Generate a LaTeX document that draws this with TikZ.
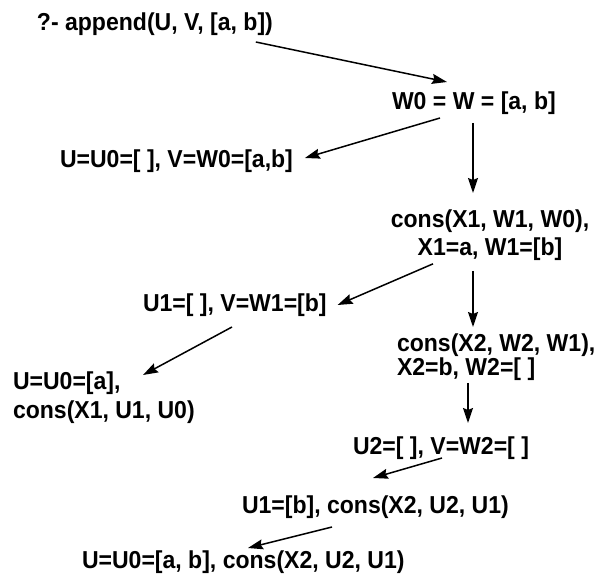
\documentclass[tikz,border=0pt]{standalone}
\usepackage{fontspec}
\setmainfont[FakeStretch=0.94]{Liberation Sans}
\usetikzlibrary{arrows.meta}

\begin{document}
\begin{tikzpicture}[x=1pt,y=-1pt,
  every node/.style={inner sep=0pt,outer sep=0pt,
    font=\fontsize{24.5}{28}\selectfont\bfseries},
  arr/.style={line width=1.5pt,-{Stealth[length=15pt,width=10pt,inset=2pt]}}]
\useasboundingbox (0,0) rectangle (598,575);
% goals and bindings
\node[anchor=base west] (q) at (37,31) {?- append(U, V, [a, b])};
\node[anchor=base west] (w0) at (392,110) {W0 = W = [a, b]};
\node[anchor=base west] (r0) at (60,168) {U=U0=[ ], V=W0=[a,b]};
\node[anchor=north,align=center] (c1) at (490,210) {cons(X1, W1, W0),\\X1=a, W1=[b]};
\node[anchor=base west] (r1) at (143,312) {U1=[ ], V=W1=[b]};
\node[anchor=north west,align=left] (c2) at (397,334) {cons(X2, W2, W1),\\[-4pt]X2=b, W2=[ ]};
\node[anchor=north west,align=left] (u1) at (13,372) {U=U0=[a],\\[1pt]cons(X1, U1, U0)};
\node[anchor=base west] (r2) at (353,454) {U2=[ ], V=W2=[ ]};
\node[anchor=base west] (r3) at (242,513) {U1=[b], cons(X2, U2, U1)};
\node[anchor=base west] (r4) at (82,568) {U=U0=[a, b], cons(X2, U2, U1)};
% steps
\draw[arr] ([shift={(-17,11)}]q.base east) -- ([shift={(55,-28)}]w0.base west);
\draw[arr] ([shift={(48,8)}]w0.base west) -- ([shift={(12,-10)}]r0.base east);
\draw[arr] ([shift={(81,13)}]w0.base west) -- ([shift={(-17,-17)}]c1.north);
\draw[arr] ([shift={(-57,3)}]c1.south) -- ([shift={(11,-7)}]r1.base east);
\draw[arr] ([shift={(-17,10)}]c1.south) -- ([shift={(76,-7)}]c2.north west);
\draw[arr] ([shift={(89,15)}]r1.base west) -- ([shift={(130,3)}]u1.north west);
\draw[arr] ([shift={(71,2)}]c2.south west) -- ([shift={(115,-31)}]r2.base west);
\draw[arr] ([shift={(89,4)}]r2.base west) -- ([shift={(131,-35)}]r3.base west);
\draw[arr] ([shift={(90,14)}]r3.base west) -- ([shift={(166,-20)}]r4.base west);
\end{tikzpicture}
\end{document}
